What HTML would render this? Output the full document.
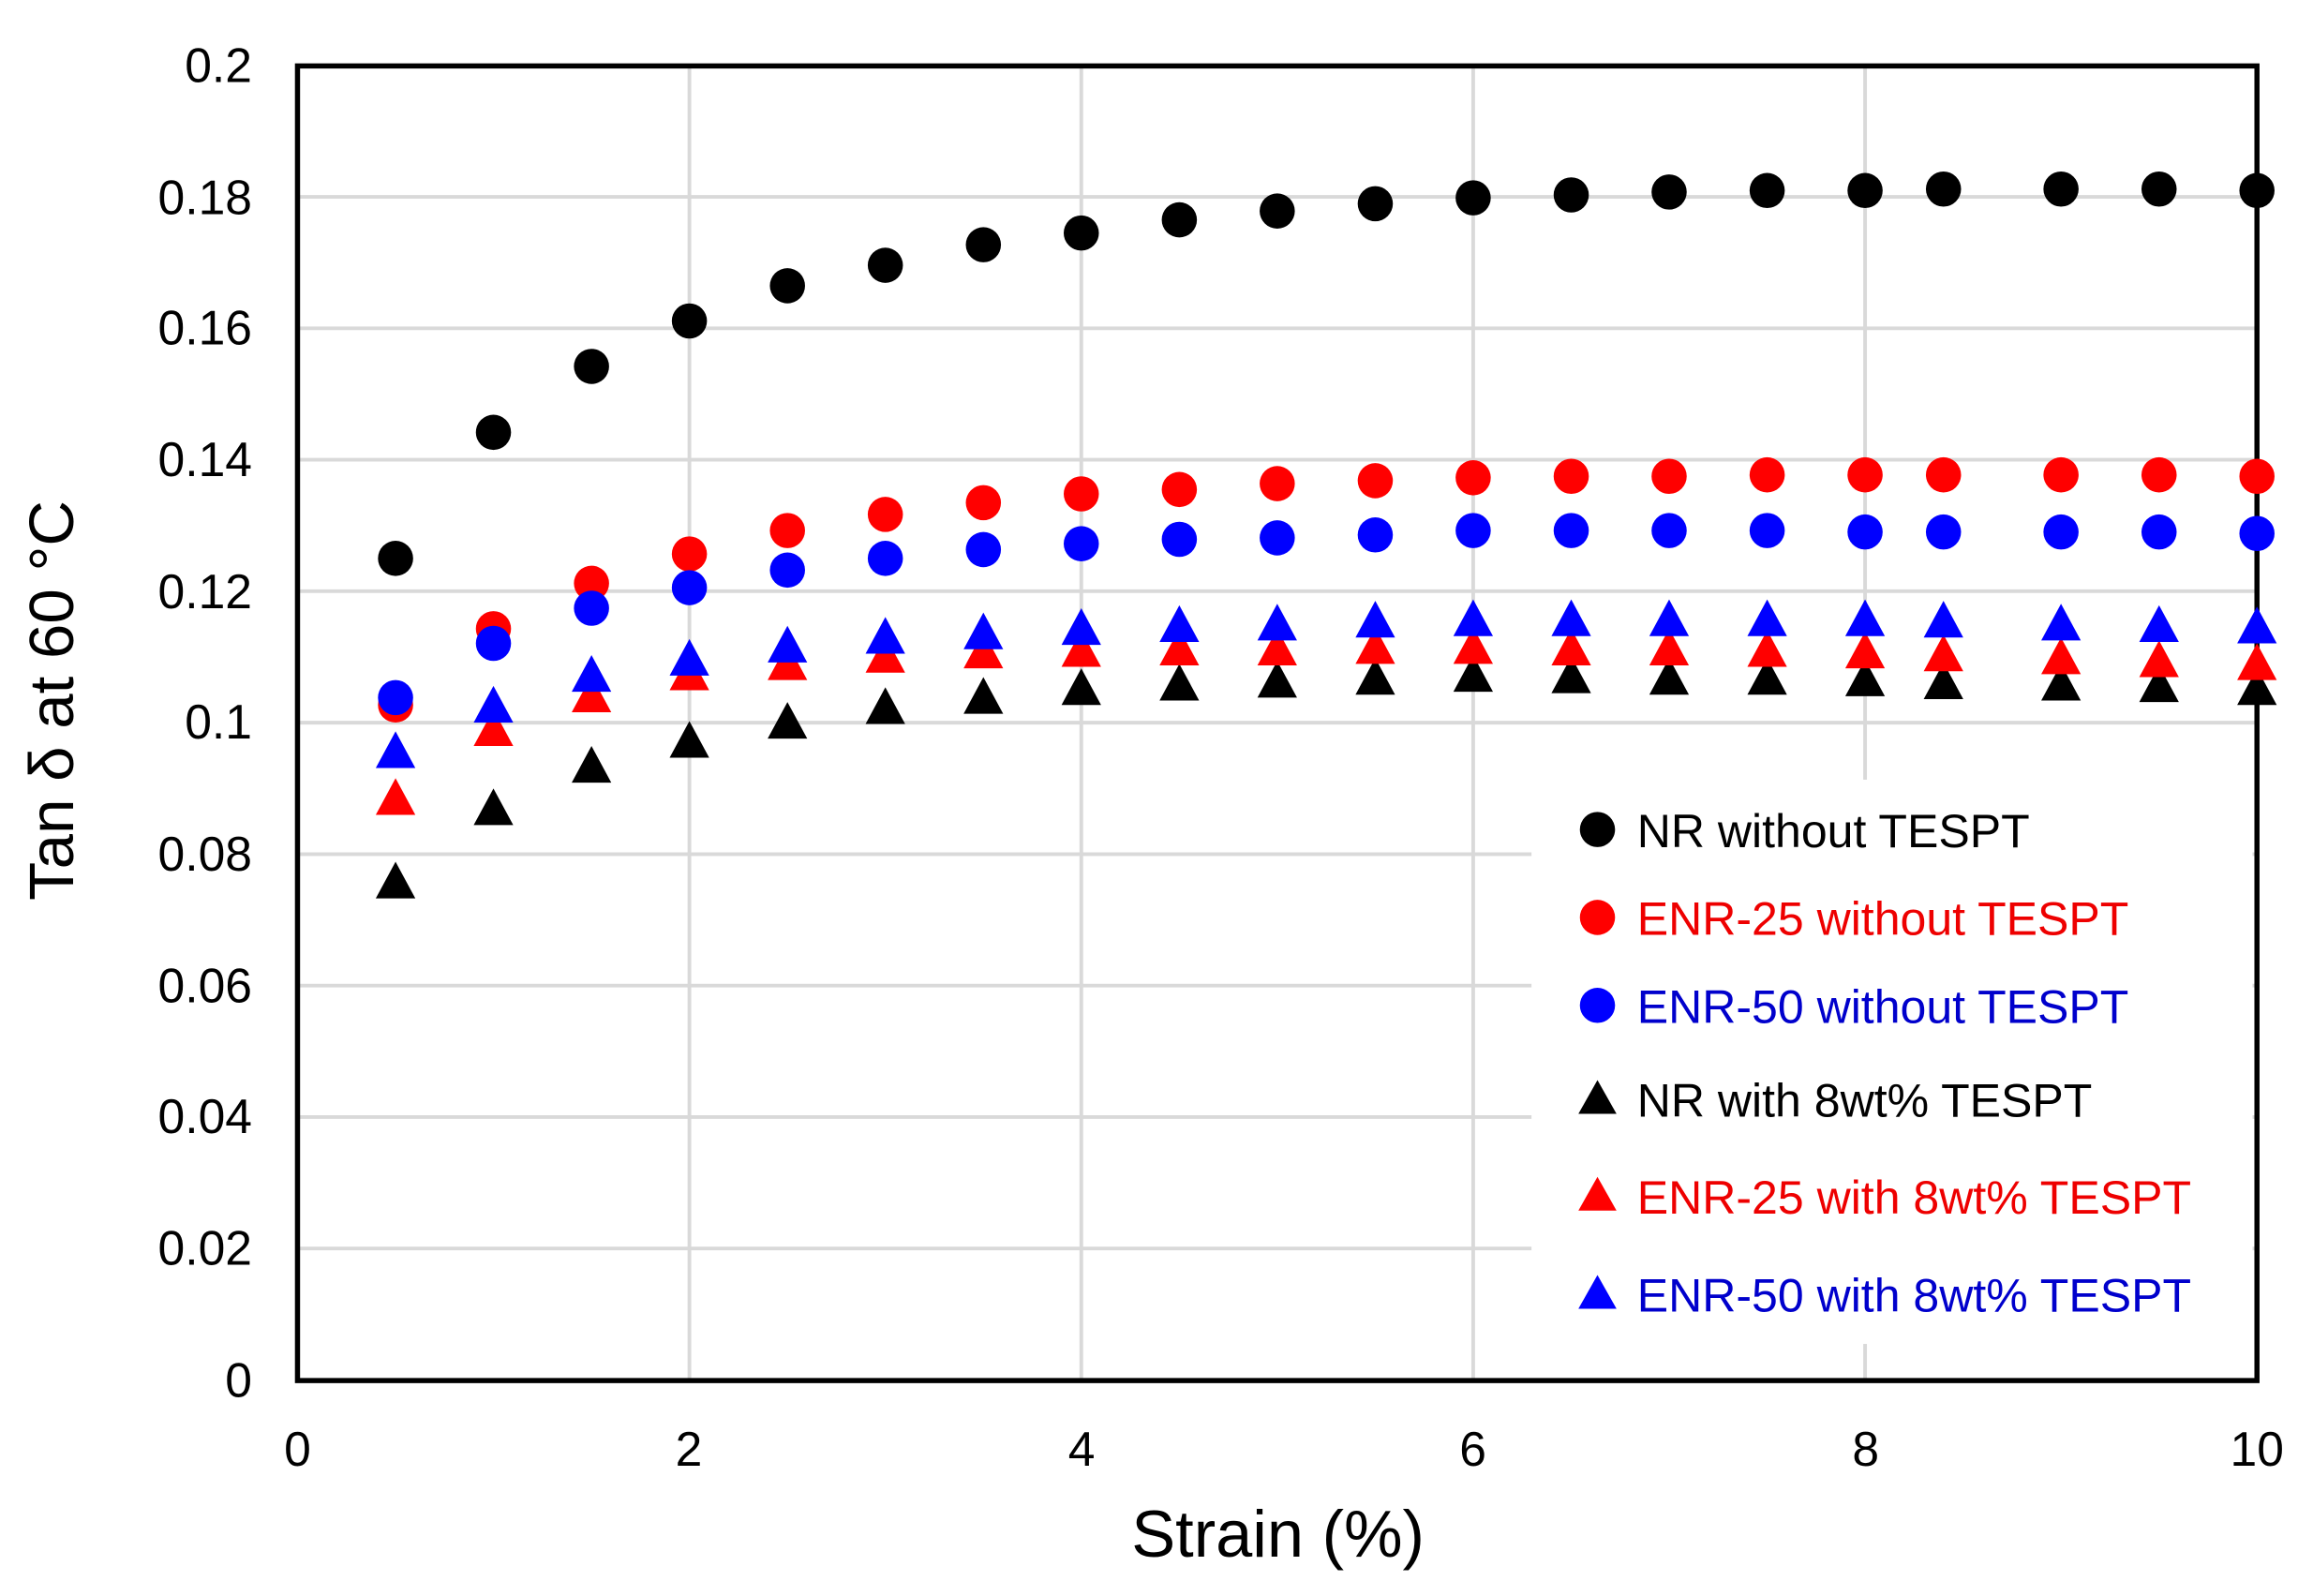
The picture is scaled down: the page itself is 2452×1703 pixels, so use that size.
<!DOCTYPE html>
<html><head><meta charset="utf-8"><style>html,body{margin:0;padding:0;background:#fff}svg{display:block}</style></head><body>
<svg width="2452" height="1703" viewBox="0 0 1568 1089" preserveAspectRatio="none" xmlns="http://www.w3.org/2000/svg" xmlns:xlink="http://www.w3.org/1999/xlink" font-family="Liberation Sans, Arial, sans-serif">
<defs><path id="t" d="M-13.5,12 L13.5,12 L0,-13Z"/></defs>
<rect width="1568" height="1089" fill="#fff"/>
<g stroke="#d9d9d9" stroke-width="2.5">
<line x1="203" y1="134.3" x2="1540" y2="134.3"/><line x1="203" y1="224" x2="1540" y2="224"/><line x1="203" y1="313.7" x2="1540" y2="313.7"/><line x1="203" y1="403.4" x2="1540" y2="403.4"/><line x1="203" y1="493.1" x2="1540" y2="493.1"/><line x1="203" y1="582.8" x2="1540" y2="582.8"/><line x1="203" y1="672.5" x2="1540" y2="672.5"/><line x1="203" y1="762.2" x2="1540" y2="762.2"/><line x1="203" y1="851.9" x2="1540" y2="851.9"/>
<line x1="470.4" y1="45" x2="470.4" y2="942"/><line x1="737.8" y1="45" x2="737.8" y2="942"/><line x1="1005.2" y1="45" x2="1005.2" y2="942"/><line x1="1272.6" y1="45" x2="1272.6" y2="942"/>
</g>
<rect x="1045" y="532" width="492" height="385" fill="#fff"/>
<rect x="203" y="45" width="1337" height="897" fill="none" stroke="#000" stroke-width="3.5"/>
<g font-size="33" text-anchor="end" fill="#000">
<text x="172" y="56">0.2</text><text x="172" y="146">0.18</text><text x="172" y="235">0.16</text><text x="172" y="325">0.14</text><text x="172" y="415">0.12</text><text x="172" y="504">0.1</text><text x="172" y="594">0.08</text><text x="172" y="684">0.06</text><text x="172" y="773">0.04</text><text x="172" y="863">0.02</text><text x="172" y="953">0</text>
</g>
<g font-size="33" text-anchor="middle">
<text x="203" y="1000">0</text><text x="470" y="1000">2</text><text x="738" y="1000">4</text><text x="1005" y="1000">6</text><text x="1273" y="1000">8</text><text x="1540" y="1000">10</text>
</g>
<text x="872" y="1062" font-size="45" text-anchor="middle">Strain (%)</text>
<text transform="translate(50,478) rotate(-90)" font-size="43" text-anchor="middle">Tan δ at 60 °C</text>
<g fill="#000">
<use xlink:href="#t" x="269.9" y="601"/><use xlink:href="#t" x="336.7" y="551"/><use xlink:href="#t" x="403.6" y="522"/><use xlink:href="#t" x="470.4" y="505"/><use xlink:href="#t" x="537.3" y="492"/><use xlink:href="#t" x="604.1" y="482"/><use xlink:href="#t" x="671" y="475"/><use xlink:href="#t" x="737.8" y="469"/><use xlink:href="#t" x="804.7" y="466"/><use xlink:href="#t" x="871.5" y="464"/><use xlink:href="#t" x="938.4" y="462"/><use xlink:href="#t" x="1005.2" y="460"/><use xlink:href="#t" x="1072.1" y="461"/><use xlink:href="#t" x="1138.9" y="462"/><use xlink:href="#t" x="1205.8" y="462"/><use xlink:href="#t" x="1272.6" y="463"/><use xlink:href="#t" x="1326.1" y="465"/><use xlink:href="#t" x="1406.3" y="466"/><use xlink:href="#t" x="1473.2" y="467"/><use xlink:href="#t" x="1540" y="469"/>
</g>
<g fill="#f00">
<use xlink:href="#t" x="269.9" y="544"/><use xlink:href="#t" x="336.7" y="497"/><use xlink:href="#t" x="403.6" y="474"/><use xlink:href="#t" x="470.4" y="459"/><use xlink:href="#t" x="537.3" y="452"/><use xlink:href="#t" x="604.1" y="447"/><use xlink:href="#t" x="671" y="444"/><use xlink:href="#t" x="737.8" y="443"/><use xlink:href="#t" x="804.7" y="442"/><use xlink:href="#t" x="871.5" y="442"/><use xlink:href="#t" x="938.4" y="441"/><use xlink:href="#t" x="1005.2" y="441"/><use xlink:href="#t" x="1072.1" y="442"/><use xlink:href="#t" x="1138.9" y="442"/><use xlink:href="#t" x="1205.8" y="443"/><use xlink:href="#t" x="1272.6" y="444"/><use xlink:href="#t" x="1326.1" y="446"/><use xlink:href="#t" x="1406.3" y="448"/><use xlink:href="#t" x="1473.2" y="450"/><use xlink:href="#t" x="1540" y="452"/>
</g>
<g fill="#00f">
<use xlink:href="#t" x="269.9" y="512"/><use xlink:href="#t" x="336.7" y="481"/><use xlink:href="#t" x="403.6" y="460"/><use xlink:href="#t" x="470.4" y="449"/><use xlink:href="#t" x="537.3" y="440"/><use xlink:href="#t" x="604.1" y="434"/><use xlink:href="#t" x="671" y="431"/><use xlink:href="#t" x="737.8" y="428"/><use xlink:href="#t" x="804.7" y="426"/><use xlink:href="#t" x="871.5" y="425"/><use xlink:href="#t" x="938.4" y="423"/><use xlink:href="#t" x="1005.2" y="422"/><use xlink:href="#t" x="1072.1" y="422"/><use xlink:href="#t" x="1138.9" y="422"/><use xlink:href="#t" x="1205.8" y="422"/><use xlink:href="#t" x="1272.6" y="422"/><use xlink:href="#t" x="1326.1" y="423"/><use xlink:href="#t" x="1406.3" y="425"/><use xlink:href="#t" x="1473.2" y="426"/><use xlink:href="#t" x="1540" y="427"/>
</g>
<g fill="#000">
<circle r="12" cx="269.9" cy="381"/><circle r="12" cx="336.7" cy="295"/><circle r="12" cx="403.6" cy="250"/><circle r="12" cx="470.4" cy="219"/><circle r="12" cx="537.3" cy="195"/><circle r="12" cx="604.1" cy="181"/><circle r="12" cx="671" cy="167"/><circle r="12" cx="737.8" cy="159"/><circle r="12" cx="804.7" cy="150"/><circle r="12" cx="871.5" cy="144"/><circle r="12" cx="938.4" cy="139"/><circle r="12" cx="1005.2" cy="135"/><circle r="12" cx="1072.1" cy="133"/><circle r="12" cx="1138.9" cy="131"/><circle r="12" cx="1205.8" cy="130"/><circle r="12" cx="1272.6" cy="130"/><circle r="12" cx="1326.1" cy="129"/><circle r="12" cx="1406.3" cy="129"/><circle r="12" cx="1473.2" cy="129"/><circle r="12" cx="1540" cy="130"/>
</g>
<g fill="#f00">
<circle r="12" cx="269.9" cy="481"/><circle r="12" cx="336.7" cy="429"/><circle r="12" cx="403.6" cy="398"/><circle r="12" cx="470.4" cy="378"/><circle r="12" cx="537.3" cy="362"/><circle r="12" cx="604.1" cy="351"/><circle r="12" cx="671" cy="343"/><circle r="12" cx="737.8" cy="337"/><circle r="12" cx="804.7" cy="334"/><circle r="12" cx="871.5" cy="330"/><circle r="12" cx="938.4" cy="328"/><circle r="12" cx="1005.2" cy="326"/><circle r="12" cx="1072.1" cy="325"/><circle r="12" cx="1138.9" cy="325"/><circle r="12" cx="1205.8" cy="324"/><circle r="12" cx="1272.6" cy="324"/><circle r="12" cx="1326.1" cy="324"/><circle r="12" cx="1406.3" cy="324"/><circle r="12" cx="1473.2" cy="324"/><circle r="12" cx="1540" cy="325"/>
</g>
<g fill="#00f">
<circle r="12" cx="269.9" cy="476"/><circle r="12" cx="336.7" cy="439"/><circle r="12" cx="403.6" cy="415"/><circle r="12" cx="470.4" cy="401"/><circle r="12" cx="537.3" cy="389"/><circle r="12" cx="604.1" cy="381"/><circle r="12" cx="671" cy="375"/><circle r="12" cx="737.8" cy="371"/><circle r="12" cx="804.7" cy="368"/><circle r="12" cx="871.5" cy="367"/><circle r="12" cx="938.4" cy="365"/><circle r="12" cx="1005.2" cy="362"/><circle r="12" cx="1072.1" cy="362"/><circle r="12" cx="1138.9" cy="362"/><circle r="12" cx="1205.8" cy="362"/><circle r="12" cx="1272.6" cy="363"/><circle r="12" cx="1326.1" cy="363"/><circle r="12" cx="1406.3" cy="363"/><circle r="12" cx="1473.2" cy="363"/><circle r="12" cx="1540" cy="364"/>
</g>
<g font-size="32">
<circle cx="1090" cy="566" r="12"/><text x="1117" y="578">NR without  TESPT</text>
<circle cx="1090" cy="626" r="12" fill="#f00"/><text x="1117" y="638" fill="#e00">ENR-25 without  TESPT</text>
<circle cx="1090" cy="686" r="12" fill="#00f"/><text x="1117" y="698" fill="#00c">ENR-50 without  TESPT</text>
<polygon points="1077,760 1103,760 1090,737"/><text x="1117" y="762">NR with 8wt% TESPT</text>
<polygon points="1077,826 1103,826 1090,803" fill="#f00"/><text x="1117" y="828" fill="#e00">ENR-25 with 8wt% TESPT</text>
<polygon points="1077,893 1103,893 1090,870" fill="#00f"/><text x="1117" y="895" fill="#00c">ENR-50 with 8wt% TESPT</text>
</g>
</svg>
</body></html>
